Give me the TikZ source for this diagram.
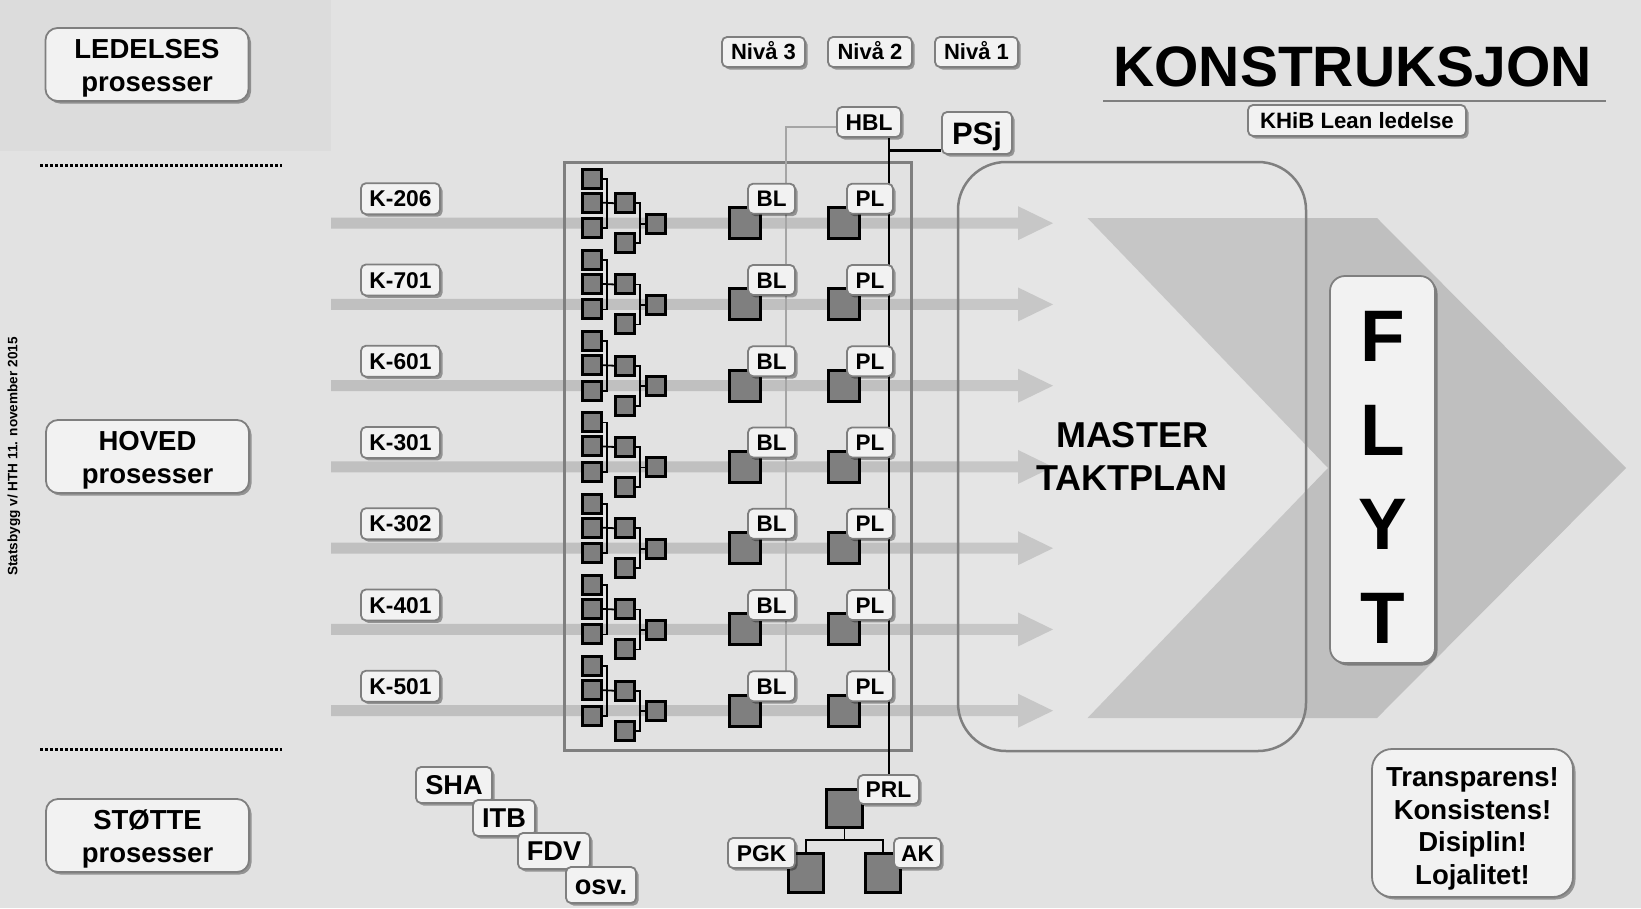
\documentclass[tikz,border=0pt]{standalone}
\usepackage{fontspec}
\setmainfont{Liberation Sans}
\usetikzlibrary{shadows,calc}
\definecolor{bg}{HTML}{E2E2E2}
\definecolor{bgdark}{HTML}{DCDCDC}
\definecolor{boxf}{HTML}{F2F2F2}
\definecolor{bord}{HTML}{7F7F7F}
\definecolor{arr}{HTML}{C0C0C0}
\definecolor{chev}{HTML}{BFBFBF}
\definecolor{sqf}{HTML}{7F7F7F}
\definecolor{gline}{HTML}{A5A5A5}
\newcommand{\fsz}[2]{\fontsize{#1}{#2}\selectfont}
\pgfdeclarelayer{bgl}
\pgfdeclarelayer{lines}
\pgfsetlayers{bgl,lines,main}
\begin{document}
\begin{tikzpicture}[x=1pt,y=-1pt,
  shadowed/.style={drop shadow={shadow xshift=2.5pt,shadow yshift=-2.5pt,opacity=0.35,fill=black}},
  boxbase/.style={draw=bord,fill=boxf,line width=1.8pt,rounded corners=5pt,inner sep=0pt,align=center,shadowed},
  lbl/.style={boxbase,text depth=0pt},
  fK/.style={font=\bfseries\fsz{22.8}{27},text height=16.3pt},
  fB/.style={font=\bfseries\fsz{22.5}{27},text height=16.1pt},
  fN/.style={font=\bfseries\fsz{22}{26},text height=15.8pt},
  fS/.style={font=\bfseries\fsz{27.2}{32},text height=19.5pt},
  fP/.style={font=\bfseries\fsz{31}{36},text height=22.2pt},
  fH/.style={font=\bfseries\fsz{22.2}{26},text height=15.9pt},
  mainbox/.style={boxbase,rounded corners=12pt,font=\bfseries\fsz{27.5}{33.5},minimum width=203pt,minimum height=73pt},
  sqr/.style={draw=black,fill=sqf,line width=3pt,inner sep=0pt,minimum size=19pt},
  bigsqr/.style={sqr,minimum size=31pt},
  treeln/.style={draw=black,line width=1.8pt},
  gl/.style={draw=gline,line width=2.5pt},
  blk/.style={draw=black,line width=2.2pt},
  dotline/.style={draw=black,line width=3pt,dash pattern=on 3pt off 2pt}
]
\useasboundingbox (0,0) rectangle (1641,908);
\begin{pgfonlayer}{bgl}
\fill[bg] (0,0) rectangle (1641,908);
\fill[bgdark] (0,0) rectangle (331,151);
\draw[dotline] (40,165) -- (282,165);
\draw[dotline] (40,749) -- (282,749);
% big chevron
\fill[chev] (1087.5,218) -- (1377,218) -- (1626,468) -- (1377,718) -- (1087.5,718) -- (1328,468) -- cycle;
% process arrows
\foreach \i in {0,...,6}{
  \pgfmathsetmacro{\cy}{223.2+81.25*\i}
  \fill[arr] (331,\cy-5.5) -- (1018,\cy-5.5) -- (1018,\cy-17) -- (1053,\cy) -- (1018,\cy+17) -- (1018,\cy+5.5) -- (331,\cy+5.5) -- cycle;
}
\node[draw=bord,line width=2.5pt,rounded corners=48pt,minimum width=348pt,minimum height=589pt,inner sep=0pt,
      fill=white,fill opacity=0.12,text opacity=1,
      align=center,font=\bfseries\fsz{36}{43.4}] (master) at (1132,456.5) {MASTER\\TAKTPLAN};
\node[draw=bord,line width=3pt,minimum width=347pt,minimum height=588pt,inner sep=0pt] (org) at (737.5,456) {};
\end{pgfonlayer}

% left column
\node[mainbox] (led) at (147,64.5) {\rule{0pt}{26.5pt}LEDELSES\\prosesser};
\node[mainbox] (hov) at (147.5,456.5) {\rule{0pt}{26.5pt}HOVED\\prosesser};
\node[mainbox] (sto) at (147.5,835.5) {\rule{0pt}{26.5pt}STØTTE\\prosesser};
\node[rotate=90,font=\bfseries\fsz{13.6}{15},text height=9.8pt,text depth=0pt,inner sep=0pt] (stamp) at (12.5,456.5) {Statsbygg v/ HTH 11. november 2015};

% title
\node[font=\bfseries\fsz{57}{60},text height=40.8pt,text depth=0pt,inner sep=0pt] (title) at (1352.5,66.5) {KONSTRUKSJON};
\draw[draw=bord,line width=2pt] (1103,100.7) -- (1606,100.7);
\node[lbl,fH,minimum width=218pt,minimum height=31pt] (khib) at (1357,120.5) {KHiB Lean ledelse};

% levels
\node[lbl,fN,minimum width=83pt,minimum height=30pt] (niva3) at (763.5,52) {Nivå 3};
\node[lbl,fN,minimum width=84pt,minimum height=30pt] (niva2) at (870,52) {Nivå 2};
\node[lbl,fN,minimum width=83pt,minimum height=30pt] (niva1) at (976.5,52) {Nivå 1};
\node[lbl,fK,minimum width=64pt,minimum height=30pt] (hbl) at (869,122) {HBL};
\node[lbl,fP,minimum width=70pt,minimum height=42pt] (psj) at (977,133) {PSj};

% rows
\foreach \i/\kn in {0/206,1/701,2/601,3/301,4/302,5/401,6/501}{
  \pgfmathsetmacro{\cy}{223.2+81.25*\i}
  \node[sqr] (a\i-1) at (592,\cy-44.5) {};
  \node[sqr] (a\i-2) at (592,\cy-20.5) {};
  \node[sqr] (a\i-3) at (592,\cy+5) {};
  \node[sqr] (b\i-1) at (625,\cy-20) {};
  \node[sqr] (b\i-2) at (625,\cy+20) {};
  \node[sqr] (c\i) at (656,\cy+0.5) {};
  \draw[treeln] (a\i-1.east) -- ++(4,0) |- (a\i-3.east);
  \draw[treeln] (a\i-2.east) -- (b\i-1.west);
  \draw[treeln] (b\i-1.east) -- ++(4,0) coordinate (w\i) |- (b\i-2.east);
  \draw[treeln] (w\i |- c\i.west) -- (c\i.west);
  \node[bigsqr] (blsq\i) at (744.7,\cy) {};
  \node[bigsqr] (plsq\i) at (843.7,\cy) {};
  \node[lbl,fB,minimum width=47pt,minimum height=30pt] (bl\i) at (771.5,\cy-24.5) {BL};
  \node[lbl,fB,minimum width=46pt,minimum height=30pt] (pl\i) at (870,\cy-24.5) {PL};
  \node[lbl,fK,minimum width=79pt,minimum height=31pt] (k\i) at (400.5,\cy-24.5) {K-\kn};
}

% bottom: project organisation
\node[sqr,minimum width=36pt,minimum height=38pt] (prlsq) at (844.5,808.5) {};
\node[sqr,minimum width=35pt,minimum height=39pt] (pgksq) at (806,873) {};
\node[sqr,minimum width=35pt,minimum height=39pt] (aksq) at (883,873) {};
\draw[treeln] (prlsq.south) -- ++(0,11) coordinate (tj);
\draw[treeln] (pgksq.north) |- (tj) -| (aksq.north);
\node[lbl,fK,minimum width=61pt,minimum height=29pt] (prl) at (888.5,789.5) {PRL};
\node[lbl,fK,minimum width=67pt,minimum height=30pt] (pgk) at (761.5,853) {PGK};
\node[lbl,fK,minimum width=47pt,minimum height=30pt] (ak) at (917.5,853) {AK};

% support processes
\node[lbl,fS,minimum width=76pt,minimum height=36pt] (sha) at (454,785) {SHA};
\node[lbl,fS,minimum width=62pt,minimum height=36pt] (itb) at (504,818) {ITB};
\node[lbl,fS,minimum width=72pt,minimum height=36pt] (fdv) at (554,851) {FDV};
\node[lbl,fS,minimum width=70pt,minimum height=36pt] (osv) at (601,885) {osv.};

% right side
\node[boxbase,rounded corners=15pt,font=\bfseries\fsz{73}{94},minimum width=105pt,minimum height=387pt] (flyt) at (1382.5,469.5) {\rule{0pt}{65.3pt}F\\L\\Y\\T};
\node[boxbase,rounded corners=20pt,font=\bfseries\fsz{27.5}{32.8},minimum width=201pt,minimum height=148pt] (trans) at (1472.5,823) {\rule{0pt}{30.5pt}Transparens!\\Konsistens!\\Disiplin!\\Lojalitet!};

% connecting lines (behind labels)
\begin{pgfonlayer}{lines}
\coordinate (gend) at (786,686);
\draw[gl] ($(hbl.west)+(0,5)$) -| (gend);
\coordinate (ptop) at ($(hbl.south)+(20,0)$);
\draw[blk] (ptop) -- (ptop |- prl.north);
\coordinate (pj) at ($(psj.west)+(0,17)$);
\draw[blk,line width=3pt] (pj) -- (pj -| ptop);
\end{pgfonlayer}
\end{tikzpicture}
\end{document}
